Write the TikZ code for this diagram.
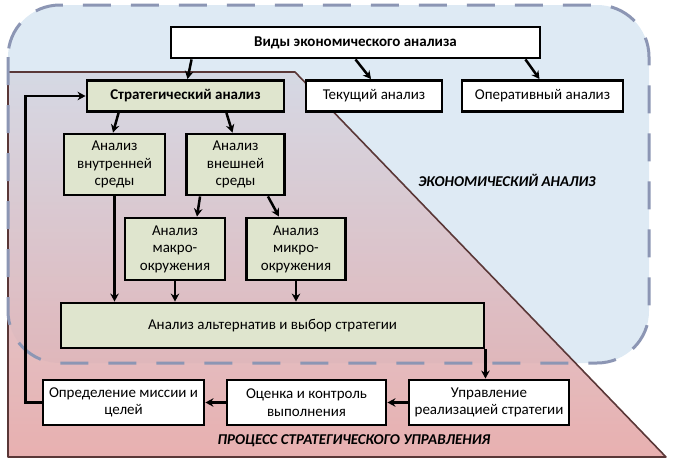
\documentclass[tikz,border=0pt]{standalone}
\usepackage{fontspec}
\setmainfont{Carlito}
\usepackage{xcolor}
\usepackage{tikz}
\usetikzlibrary{shapes.geometric, arrows.meta}
\definecolor{boxgreen}{RGB}{223,229,206}
\definecolor{zoneblue}{RGB}{222,234,244}
\definecolor{zonedash}{RGB}{140,150,180}
\definecolor{trapTop}{RGB}{212,214,226}
\definecolor{trapBot}{RGB}{228,162,162}
\definecolor{trapEdge}{RGB}{90,55,55}
\tikzstyle{block} = [rectangle, minimum height=31pt, text centered, align=center, draw=black, line width=2.9pt, fill=white, inner sep=2pt]
\tikzstyle{blockg} = [block, fill=boxgreen]
\tikzstyle{arrow} = [line width=2.5pt, -{Stealth[length=8pt,width=8.5pt]}]
\tikzstyle{zonelabel} = [font=\fontsize{15}{17.5}\selectfont\bfseries\itshape]

\begin{document}
\begin{tikzpicture}[x=1pt, y=-1pt, node distance=121pt, font=\fontsize{15}{17.5}\selectfont]
        \useasboundingbox (0,0) rectangle (676,461);
        % zones
        \fill [zoneblue, rounded corners=52pt] (8,5) rectangle (649,363);
        \shade [top color=trapTop, bottom color=trapBot, fill opacity=0.85] (8,72) -- (295,72) -- (666,457) -- (8,457) -- cycle;
        \draw [trapEdge, line width=1.6pt, line join=round] (8,72) -- (295,72) -- (666,457) -- (8,457) -- cycle;
        \draw [zonedash, line width=3pt, dash pattern=on 28pt off 20pt, rounded corners=52pt] (8,5) rectangle (649,363);

        \node (vid) [block, minimum width=369pt] at (355.5,42.5) {\bfseries Виды экономического анализа};
        \node (strat) [blockg, minimum width=197pt] at (185.5,96) {\bfseries Стратегический анализ};
        \node (tek) [block, minimum width=136pt, right of=strat, xshift=67.5pt] {Текущий анализ};
        \node (oper) [block, minimum width=161pt, right of=tek, xshift=47.5pt] {Оперативный анализ};
        \node (vnutr) [blockg, minimum width=101pt, minimum height=61pt] at (114.5,164.5) {Анализ\\внутренней\\среды};
        \node (vnesh) [blockg, minimum width=98pt, minimum height=61pt, right of=vnutr] {Анализ\\внешней\\среды};
        \node (makro) [blockg, minimum width=100pt, minimum height=62pt] at (175,249) {Анализ\\макро-\\окружения};
        \node (mikro) [blockg, minimum width=99pt, minimum height=62pt, right of=makro] {Анализ\\микро-\\окружения};
        \node (alt) [blockg, minimum width=423pt, minimum height=45pt] at (272.5,325.5) {Анализ альтернатив и выбор стратегии};
        \node (opr) [block, minimum width=161pt, minimum height=45pt] at (123.5,402.5) {Определение миссии и\\целей};
        \node (ocen) [block, minimum width=159pt, minimum height=45pt, right of=opr, xshift=62pt] {Оценка и контроль\\выполнения};
        \node (upr) [block, minimum width=160pt, minimum height=45pt, right of=ocen, xshift=61.5pt] {Управление\\реализацией стратегии};
        \node (econ) [zonelabel] at (507,180) {ЭКОНОМИЧЕСКИЙ АНАЛИЗ};
        \node (proc) [zonelabel] at (354,441) {ПРОЦЕСС СТРАТЕГИЧЕСКОГО УПРАВЛЕНИЯ};

        \draw [arrow] ([xshift=22pt]vid.south west) -- ([xshift=2pt]strat.north);
        \draw [arrow] (vid.south) -- ([xshift=-3pt]tek.north);
        \draw [arrow] ([xshift=-16pt]vid.south east) -- ([xshift=-3pt]oper.north);
        \draw [arrow] ([xshift=33pt]strat.south west) -- ([xshift=-1.5pt]vnutr.north);
        \draw [arrow] ([xshift=-59pt]strat.south east) -- ([xshift=-3pt]vnesh.north);
        \draw [arrow] ([xshift=15pt]vnesh.south west) -- ([xshift=22pt]makro.north);
        \draw [arrow] ([xshift=-18pt]vnesh.south east) -- ([xshift=-17pt]mikro.north);
        \draw [arrow] (vnutr.south) -- (vnutr.south |- alt.north);
        \draw [arrow] (makro.south) -- (makro.south |- alt.north);
        \draw [arrow] (mikro.south) -- (mikro.south |- alt.north);
        \draw [arrow] (alt.south east) -- (alt.south east |- upr.north);
        \draw [arrow] (upr.west) -- (ocen.east);
        \draw [arrow] (ocen.west) -- (opr.east);
        \draw [arrow] (opr.west) -- ++(-16,0) |- (strat.west);
\end{tikzpicture}
\end{document}
